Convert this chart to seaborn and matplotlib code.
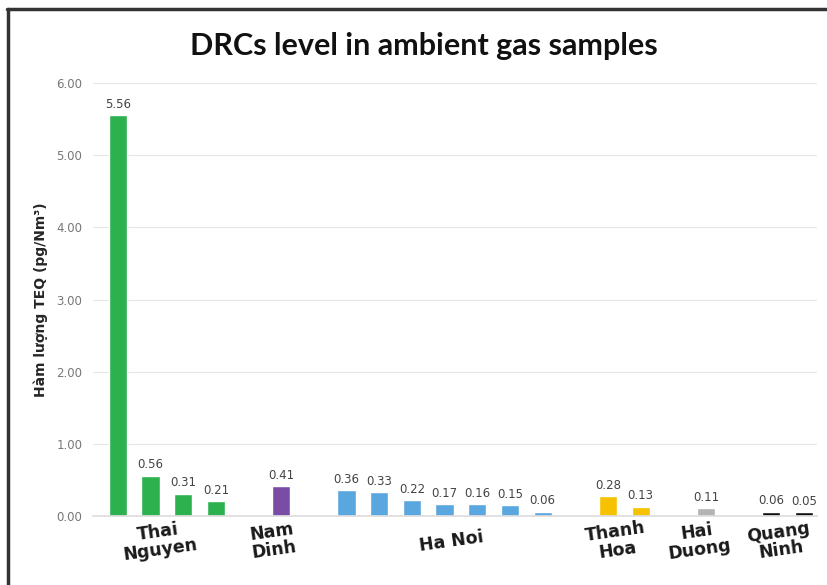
import pandas as pd
import seaborn as sns
import matplotlib.pyplot as plt
from matplotlib.lines import Line2D

# values (pg/Nm3)
regions = ['Thai\nNguyen', 'Nam\nDinh', 'Ha Noi', 'Thanh\nHoa', 'Hai\nDuong', 'Quang\nNinh']
values = [
    [5.56, 0.56, 0.31, 0.21],
    [0.41],
    [0.36, 0.33, 0.22, 0.17, 0.16, 0.15, 0.06],
    [0.28, 0.13],
    [0.11],
    [0.06, 0.05],
]
colors = ['#2DB14F', '#7A4CA6', '#5AA6DF', '#F6C100', '#B3B3B3', '#111111']
yticks = [0, 1, 2, 3, 4, 5, 6]

# build a long table; one empty slot between groups
rows = []
centers = []
pos = 0
for reg, vals in zip(regions, values):
    start = pos
    for v in vals:
        rows.append({'pos': pos, 'val': v, 'region': reg})
        pos += 1
    centers.append((start + pos - 1) / 2)
    pos += 1
df = pd.DataFrame(rows)

sns.set_theme(style='whitegrid')
plt.rcParams['font.family'] = ['DejaVu Sans']

fig = plt.figure(figsize=(8.27, 5.85), dpi=100)
ax = fig.add_axes([0.113, 0.118, 0.875, 0.74])

sns.barplot(data=df, x='pos', y='val', hue='region', palette=dict(zip(regions, colors)),
            native_scale=True, dodge=False, width=0.56, legend=False, ax=ax,
            saturation=1)

for _, r in df.iterrows():
    ax.annotate(f"{r['val']:.2f}", (r['pos'], r['val']), xytext=(0, 3),
                textcoords='offset points', ha='center', va='bottom',
                fontsize=8.5, color='#444444')

# group names under the bars, slightly tilted like the original
for c, reg in zip(centers, regions):
    shift = 0.2 if reg == 'Ha Noi' else -0.25
    ax.text(c + shift, -0.058, reg, transform=ax.get_xaxis_transform(),
            ha='center', va='center', fontsize=12.5, fontweight='bold',
            rotation=8, linespacing=1.0, color='#1a1a1a')

ax.set_xlim(-0.75, 21.4)
ax.set_ylim(0, 6)
ax.set_yticks(yticks)
ax.set_yticklabels([f'{t:.2f}' for t in yticks], fontsize=8.5, color='#777777')
ax.set_xticks([])
ax.set_xlabel('')
ax.set_ylabel('Hàm lượng TEQ (pg/Nm³)', fontsize=10, fontweight='bold', labelpad=6)
ax.grid(axis='y', color='#E6E6E6', linewidth=0.8)
ax.grid(axis='x', visible=False)
for s in ['left', 'right', 'top']:
    ax.spines[s].set_visible(False)
ax.spines['bottom'].set_color('#DDDDDD')
ax.tick_params(axis='y', length=0, pad=8)

fig.text(0.512, 0.922, 'DRCs level in ambient gas samples', ha='center', va='center',
         fontsize=22, fontweight='bold', family='Lato', color='#111111')

# dark frame at top and left as in the scanned figure
fig.add_artist(Line2D([0.009, 1.0], [0.985, 0.985], transform=fig.transFigure,
                      color='#333333', linewidth=2.5))
fig.add_artist(Line2D([0.010, 0.010], [0.0, 0.985], transform=fig.transFigure,
                      color='#333333', linewidth=2.5))

plt.savefig('out.png', dpi=100)
